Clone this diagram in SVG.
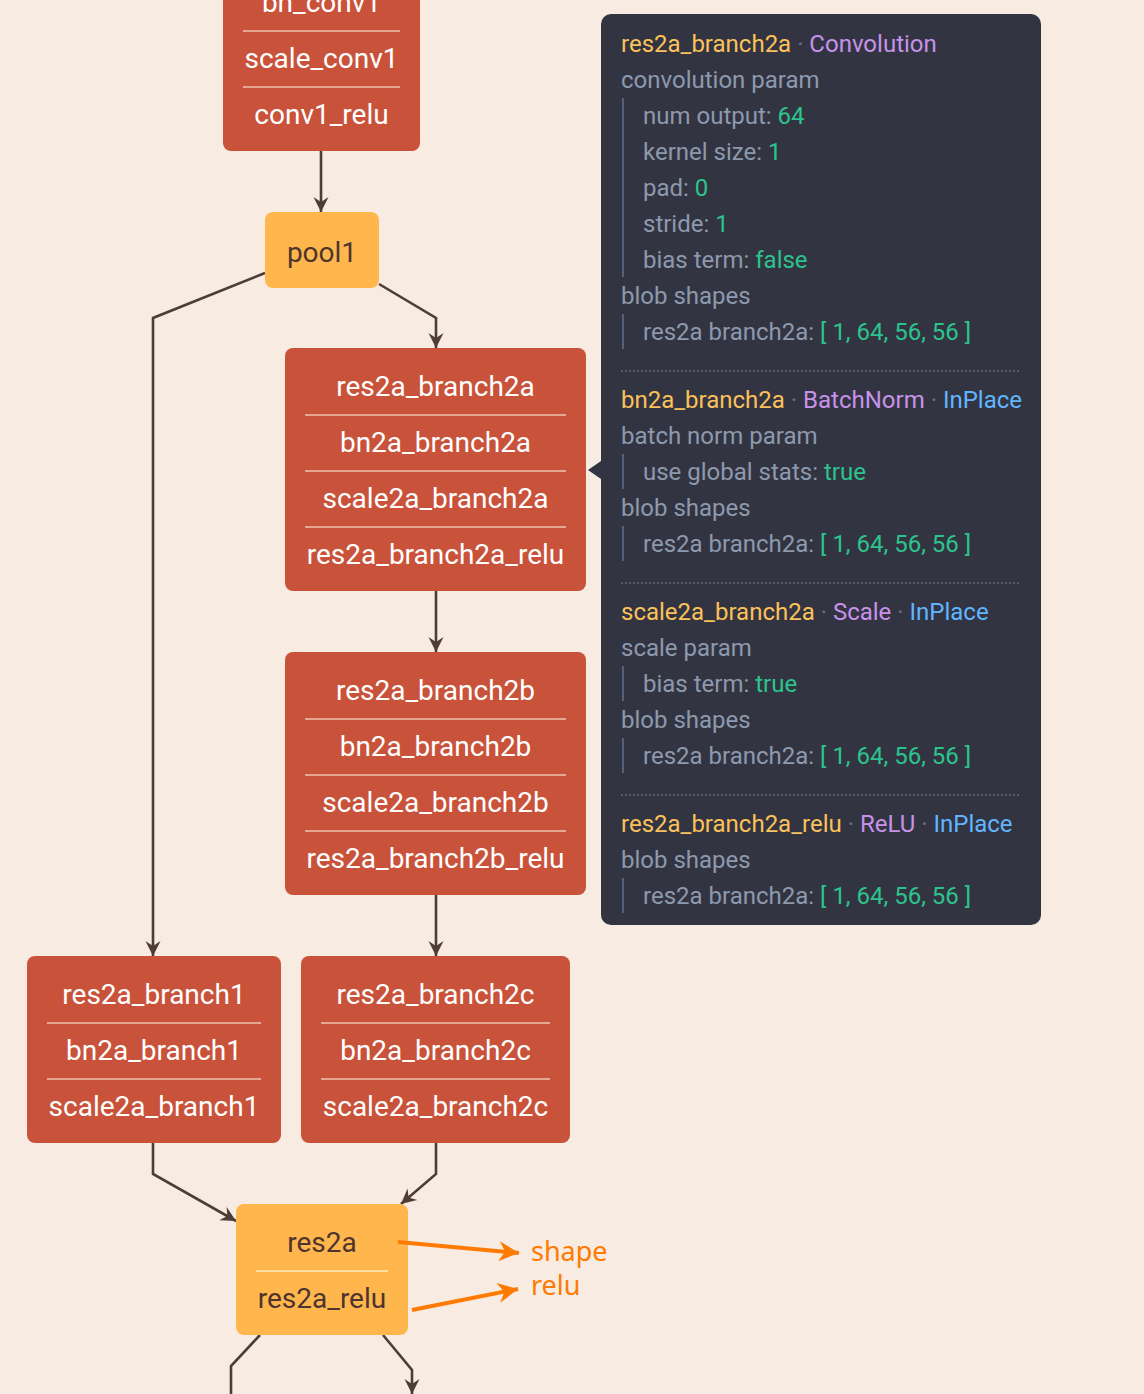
<svg xmlns="http://www.w3.org/2000/svg" width="1144" height="1394" viewBox="0 0 1144 1394">
<defs>
<style>
.bg{fill:#F7EBE2}
.red{fill:#C9533A}
.yel{fill:#FFB74D}
.nt{font-family:Roboto,"Liberation Sans",sans-serif;font-size:28px;text-anchor:middle;fill:#FFFFFF}
.yt{font-family:Roboto,"Liberation Sans",sans-serif;font-size:28px;text-anchor:middle;fill:#4E342E}
.sepr{stroke:#E7A593;stroke-width:2}
.sepy{stroke:#FFDDA3;stroke-width:2}
.edge{fill:none;stroke:#4E3D35;stroke-width:2.6}
.oedge{fill:none;stroke:#FF7A00;stroke-width:4}
.olab{font-family:"Noto Sans","Open Sans",sans-serif;font-size:27px;fill:#FF7A00}
.tt{font-family:Roboto,"Liberation Sans",sans-serif;font-size:24px;fill:#8D99AE}
.nm{fill:#FBC15A}
.ty{fill:#C792EA}
.ip{fill:#61B5FF}
.dot{fill:#6B7385}
.v{fill:#2DC38C}
.bar{stroke:#56607A;stroke-width:2}
.dsep{stroke:#5F6880;stroke-width:1.5;stroke-dasharray:2 2}
</style>
<marker id="ah" viewBox="-16 -8 16 16" refX="0" refY="0" markerWidth="16" markerHeight="16" markerUnits="userSpaceOnUse" orient="auto">
<path d="M0,0 L-15,-7.5 L-10,0 L-15,7.5 Z" fill="#4E3D35"/>
</marker>
<marker id="oah" viewBox="-22 -11 22 22" refX="0" refY="0" markerWidth="22" markerHeight="22" markerUnits="userSpaceOnUse" orient="auto">
<path d="M0,0 L-20,-10 L-14,0 L-20,10 Z" fill="#FF7A00"/>
</marker>
</defs>
<rect class="bg" x="0" y="0" width="1144" height="1394"/>

<g id="connectors">
<path class="edge" d="M321,151 V212" marker-end="url(#ah)"/>
<path class="edge" d="M379,284 L436,318 V348" marker-end="url(#ah)"/>
<path class="edge" d="M265,273 L153,318 V956" marker-end="url(#ah)"/>
<path class="edge" d="M436,591 V652" marker-end="url(#ah)"/>
<path class="edge" d="M436,895 V956" marker-end="url(#ah)"/>
<path class="edge" d="M153,1143 V1174 L236,1221" marker-end="url(#ah)"/>
<path class="edge" d="M436,1143 V1174 L401,1204" marker-end="url(#ah)"/>
<path class="edge" d="M260,1335 L231,1366 V1400"/>
<path class="edge" d="M383,1335 L412,1370 V1394" marker-end="url(#ah)"/>
</g>

<g id="node-conv1">
<rect class="red" x="223" y="-40" width="197" height="191" rx="8"/>
<text class="nt" x="321.5" y="12">bn_conv1</text>
<line class="sepr" x1="243" y1="31" x2="400" y2="31"/>
<text class="nt" x="321.5" y="68">scale_conv1</text>
<line class="sepr" x1="243" y1="87" x2="400" y2="87"/>
<text class="nt" x="321.5" y="124">conv1_relu</text>
</g>

<g id="node-pool1">
<rect class="yel" x="265" y="212" width="114" height="76" rx="8"/>
<text class="yt" x="322" y="262">pool1</text>
</g>

<g id="node-branch2a">
<rect class="red" x="285" y="348" width="301" height="243" rx="8"/>
<text class="nt" x="435.5" y="396">res2a_branch2a</text>
<line class="sepr" x1="305" y1="415" x2="566" y2="415"/>
<text class="nt" x="435.5" y="452">bn2a_branch2a</text>
<line class="sepr" x1="305" y1="471" x2="566" y2="471"/>
<text class="nt" x="435.5" y="508">scale2a_branch2a</text>
<line class="sepr" x1="305" y1="527" x2="566" y2="527"/>
<text class="nt" x="435.5" y="564">res2a_branch2a_relu</text>
</g>

<g id="node-branch2b">
<rect class="red" x="285" y="652" width="301" height="243" rx="8"/>
<text class="nt" x="435.5" y="700">res2a_branch2b</text>
<line class="sepr" x1="305" y1="719" x2="566" y2="719"/>
<text class="nt" x="435.5" y="756">bn2a_branch2b</text>
<line class="sepr" x1="305" y1="775" x2="566" y2="775"/>
<text class="nt" x="435.5" y="812">scale2a_branch2b</text>
<line class="sepr" x1="305" y1="831" x2="566" y2="831"/>
<text class="nt" x="435.5" y="868">res2a_branch2b_relu</text>
</g>

<g id="node-branch1">
<rect class="red" x="27" y="956" width="254" height="187" rx="8"/>
<text class="nt" x="154" y="1004">res2a_branch1</text>
<line class="sepr" x1="47" y1="1023" x2="261" y2="1023"/>
<text class="nt" x="154" y="1060">bn2a_branch1</text>
<line class="sepr" x1="47" y1="1079" x2="261" y2="1079"/>
<text class="nt" x="154" y="1116">scale2a_branch1</text>
</g>

<g id="node-branch2c">
<rect class="red" x="301" y="956" width="269" height="187" rx="8"/>
<text class="nt" x="435.5" y="1004">res2a_branch2c</text>
<line class="sepr" x1="321" y1="1023" x2="550" y2="1023"/>
<text class="nt" x="435.5" y="1060">bn2a_branch2c</text>
<line class="sepr" x1="321" y1="1079" x2="550" y2="1079"/>
<text class="nt" x="435.5" y="1116">scale2a_branch2c</text>
</g>

<g id="node-res2a">
<rect class="yel" x="236" y="1204" width="172" height="131" rx="8"/>
<text class="yt" x="322" y="1252">res2a</text>
<line class="sepy" x1="256" y1="1271" x2="388" y2="1271"/>
<text class="yt" x="322" y="1308">res2a_relu</text>
</g>

<g id="annotations">
<path class="oedge" d="M398,1242 L519,1253" marker-end="url(#oah)"/>
<path class="oedge" d="M412,1310 L518,1289" marker-end="url(#oah)"/>
<text class="olab" x="531" y="1261">shape</text>
<text class="olab" x="531" y="1295">relu</text>
</g>

<g id="tooltip">
<rect x="601" y="14" width="440" height="911" rx="10" fill="#323541"/>
<polygon points="588,470 601,461 601,479" fill="#323541"/>
<text class="tt" x="621" y="52"><tspan class="nm">res2a_branch2a</tspan><tspan class="dot"> · </tspan><tspan class="ty">Convolution</tspan></text>
<text class="tt" x="621" y="88">convolution param</text>
<line class="bar" x1="623" y1="98" x2="623" y2="277"/>
<text class="tt" x="643" y="124">num output: <tspan class="v">64</tspan></text>
<text class="tt" x="643" y="160">kernel size: <tspan class="v">1</tspan></text>
<text class="tt" x="643" y="196">pad: <tspan class="v">0</tspan></text>
<text class="tt" x="643" y="232">stride: <tspan class="v">1</tspan></text>
<text class="tt" x="643" y="268">bias term: <tspan class="v">false</tspan></text>
<text class="tt" x="621" y="304">blob shapes</text>
<line class="bar" x1="623" y1="314" x2="623" y2="349"/>
<text class="tt" x="643" y="340">res2a branch2a: <tspan class="v">[ 1, 64, 56, 56 ]</tspan></text>
<line class="dsep" x1="621" y1="371" x2="1021" y2="371"/>

<text class="tt" x="621" y="408"><tspan class="nm">bn2a_branch2a</tspan><tspan class="dot"> · </tspan><tspan class="ty">BatchNorm</tspan><tspan class="dot"> · </tspan><tspan class="ip">InPlace</tspan></text>
<text class="tt" x="621" y="444">batch norm param</text>
<line class="bar" x1="623" y1="454" x2="623" y2="489"/>
<text class="tt" x="643" y="480">use global stats: <tspan class="v">true</tspan></text>
<text class="tt" x="621" y="516">blob shapes</text>
<line class="bar" x1="623" y1="526" x2="623" y2="561"/>
<text class="tt" x="643" y="552">res2a branch2a: <tspan class="v">[ 1, 64, 56, 56 ]</tspan></text>
<line class="dsep" x1="621" y1="583" x2="1021" y2="583"/>

<text class="tt" x="621" y="620"><tspan class="nm">scale2a_branch2a</tspan><tspan class="dot"> · </tspan><tspan class="ty">Scale</tspan><tspan class="dot"> · </tspan><tspan class="ip">InPlace</tspan></text>
<text class="tt" x="621" y="656">scale param</text>
<line class="bar" x1="623" y1="666" x2="623" y2="701"/>
<text class="tt" x="643" y="692">bias term: <tspan class="v">true</tspan></text>
<text class="tt" x="621" y="728">blob shapes</text>
<line class="bar" x1="623" y1="738" x2="623" y2="773"/>
<text class="tt" x="643" y="764">res2a branch2a: <tspan class="v">[ 1, 64, 56, 56 ]</tspan></text>
<line class="dsep" x1="621" y1="795" x2="1021" y2="795"/>

<text class="tt" x="621" y="832"><tspan class="nm">res2a_branch2a_relu</tspan><tspan class="dot"> · </tspan><tspan class="ty">ReLU</tspan><tspan class="dot"> · </tspan><tspan class="ip">InPlace</tspan></text>
<text class="tt" x="621" y="868">blob shapes</text>
<line class="bar" x1="623" y1="878" x2="623" y2="913"/>
<text class="tt" x="643" y="904">res2a branch2a: <tspan class="v">[ 1, 64, 56, 56 ]</tspan></text>
</g>
</svg>
